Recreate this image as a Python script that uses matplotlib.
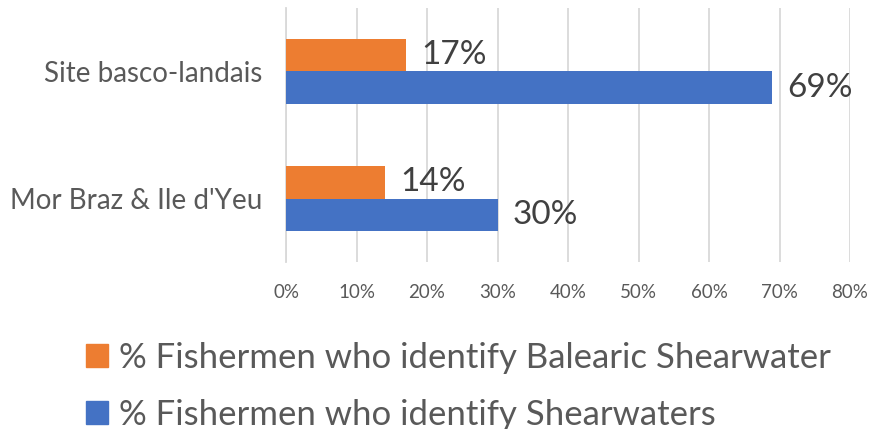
import matplotlib
matplotlib.use("Agg")
import matplotlib.pyplot as plt
from matplotlib.patches import Patch
from matplotlib.ticker import PercentFormatter

plt.rcParams['font.family'] = ['Lato', 'DejaVu Sans']

categories = ["Mor Braz & Ile d'Yeu", "Site basco-landais"]
balearic = [14, 17]
shearwaters = [30, 69]
series_names = ["% Fishermen who identify Balearic Shearwater",
                "% Fishermen who identify Shearwaters"]
xticks = [0, 10, 20, 30, 40, 50, 60, 70, 80]

orange = "#ED7D31"
blue = "#4472C4"
grey = "#595959"

W, H = 872, 429
fig = plt.figure(figsize=(W / 100, H / 100), dpi=100)
ax = fig.add_axes([286 / W, (H - 262) / H, (850 - 286) / W, (262 - 8) / H])

y = list(range(len(categories)))
bh = 0.254
ax.barh([v + bh / 2 for v in y], balearic, height=bh, color=orange, zorder=3)
ax.barh([v - bh / 2 for v in y], shearwaters, height=bh, color=blue, zorder=3)

for v, b, s in zip(y, balearic, shearwaters):
    ax.annotate(f"{b}%", (b, v + bh / 2), xytext=(11, 0), textcoords="offset points",
                va="center", ha="left", fontsize=24, color="#404040")
    ax.annotate(f"{s}%", (s, v - bh / 2), xytext=(11, 0), textcoords="offset points",
                va="center", ha="left", fontsize=24, color="#404040")

ax.set_xlim(0, 80)
ax.set_ylim(-0.5, 1.5)
ax.set_xticks(xticks)
ax.xaxis.set_major_formatter(PercentFormatter(decimals=0))
ax.set_yticks(y)
ax.set_yticklabels(categories)
ax.grid(axis="x", color="#D9D9D9", linewidth=1.3, zorder=0)
for sp in ["top", "right", "bottom"]:
    ax.spines[sp].set_visible(False)
ax.spines["left"].set_color("#D9D9D9")
ax.spines["left"].set_linewidth(1.3)
ax.tick_params(axis="x", length=0, pad=16, labelsize=13.5, labelcolor=grey)
ax.tick_params(axis="y", length=0, pad=17, labelsize=20, labelcolor=grey)

handles = [Patch(color=orange), Patch(color=blue)]
fig.legend(handles, series_names, loc="upper left", bbox_to_anchor=(72 / W, 1 - 328 / H),
           frameon=False, fontsize=25, labelcolor=grey, handlelength=0.65, handleheight=0.65,
           handletextpad=0.3, labelspacing=0.72, borderaxespad=0)

fig.savefig("out.png", dpi=100)
